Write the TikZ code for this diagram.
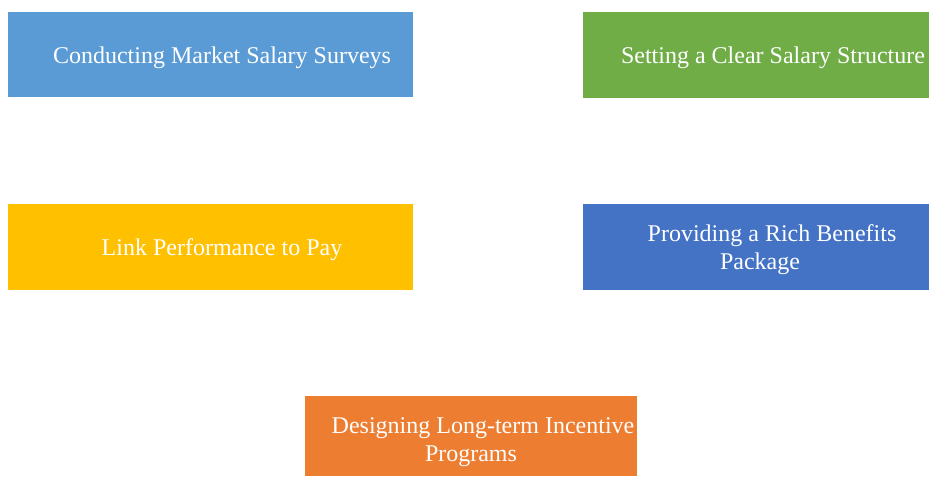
\documentclass[tikz,border=0pt]{standalone}
\usepackage{fontspec}
\setmainfont{Liberation Serif}
\usepackage{tikz}

\definecolor{surveyblue}{HTML}{5B9BD5}
\definecolor{structgreen}{HTML}{70AD47}
\definecolor{payyellow}{HTML}{FFC000}
\definecolor{benefitblue}{HTML}{4472C4}
\definecolor{incentorange}{HTML}{ED7D31}

\tikzset{
    box/.style={rectangle,anchor=north west,inner sep=0pt,outer sep=0pt},
    lbl/.style={text=white,align=center,inner sep=0pt,font=\fontsize{24}{28}\selectfont}
}

\begin{document}
\begin{tikzpicture}[x=1pt,y=-1pt]
    \useasboundingbox (0,0) rectangle (929,477);
    \node[box,fill=surveyblue,minimum width=405pt,minimum height=85pt] (survey) at (8,12) {};
    \node[box,fill=structgreen,minimum width=346pt,minimum height=86pt] (structure) at (583,12) {};
    \node[box,fill=payyellow,minimum width=405pt,minimum height=86pt] (pay) at (8,204) {};
    \node[box,fill=benefitblue,minimum width=346pt,minimum height=86pt] (benefits) at (583,204) {};
    \node[box,fill=incentorange,minimum width=332pt,minimum height=80pt] (incentive) at (305,396) {};
    \node[lbl] (surveytext) at (222,58) {Conducting Market Salary Surveys};
    \node[lbl] (structuretext) at (773,58) {Setting a Clear Salary Structure};
    \node[lbl] (paytext) at (222,250) {Link Performance to Pay};
    \node[lbl] (benefitstext) at (772,250) {Providing a Rich Benefits\\Package\hspace*{24pt}};
    \node[lbl] (incentivetext) at (483,442) {Designing Long-term Incentive\\Programs\hspace*{24pt}};
\end{tikzpicture}
\end{document}
